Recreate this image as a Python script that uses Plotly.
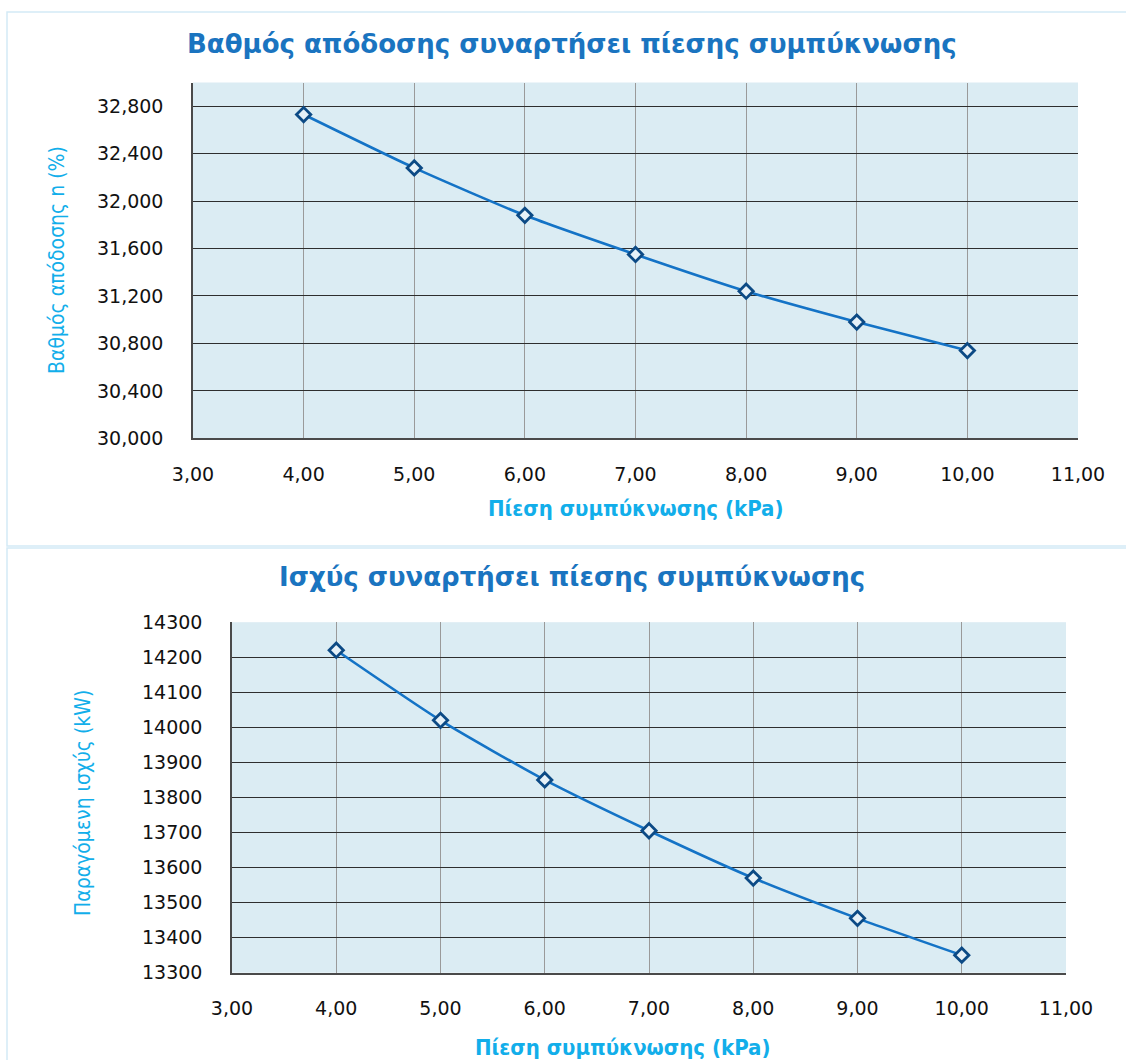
import plotly.graph_objects as go

# Condensing pressure (kPa)
pressure_kpa = [4.0, 5.0, 6.0, 7.0, 8.0, 9.0, 10.0]
# Thermal efficiency (%)
efficiency_pct = [32.73, 32.28, 31.88, 31.55, 31.24, 30.98, 30.74]
# Generated power (kW)
power_kw = [14220, 14020, 13850, 13705, 13570, 13455, 13350]

title_top = "Βαθμός απόδοσης συναρτήσει πίεσης συμπύκνωσης"
title_bottom = "Ισχύς συναρτήσει πίεσης συμπύκνωσης"
x_title = "Πίεση συμπύκνωσης (kPa)"
y_title_top = "Βαθμός απόδοσης n (%)"
y_title_bottom = "Παραγόμενη ισχύς (kW)"

W, H = 1126, 1060


def px_x(v):
    return v / W


def px_y(v):
    return 1 - v / H


LINE_COLOR = "#1473c6"
MARKER_FILL = "#e6f1f8"
MARKER_EDGE = "#0c4a85"
PLOT_BG = "#dbecf3"
TITLE_COLOR = "#1a74c0"
AXIS_TITLE_COLOR = "#12aeea"
TICK_FONT = dict(family="DejaVu Sans", size=19, color="#111111")

fig = go.Figure()

for xa, ya, yvals in (("x", "y", efficiency_pct), ("x2", "y2", power_kw)):
    fig.add_trace(go.Scatter(
        x=pressure_kpa, y=yvals, xaxis=xa, yaxis=ya,
        mode="lines+markers",
        line=dict(color=LINE_COLOR, width=2.6, shape="spline", smoothing=0.6),
        marker=dict(symbol="diamond", size=11, color=MARKER_FILL,
                    line=dict(color=MARKER_EDGE, width=2.8)),
        showlegend=False, hoverinfo="x+y",
    ))

x_common = dict(
    range=[3, 11], tick0=3, dtick=1, tickformat=".2f",
    showgrid=True, gridcolor="#9a9a9a", gridwidth=1,
    showline=True, linecolor="#4a4a4a", linewidth=1.5,
    ticks="", ticklabelstandoff=18, tickfont=TICK_FONT,
    zeroline=False, fixedrange=True, automargin=False,
)
y_common = dict(
    showgrid=True, gridcolor="#2e2e2e", gridwidth=1,
    showline=True, linecolor="#4a4a4a", linewidth=1.5,
    ticks="", ticklabelstandoff=24, tickfont=TICK_FONT,
    zeroline=False, fixedrange=True, automargin=False,
)

fig.update_layout(
    width=W, height=H,
    margin=dict(l=0, r=0, t=0, b=0, pad=0),
    paper_bgcolor="white",
    plot_bgcolor=PLOT_BG,
    separators=",.",
    xaxis=dict(domain=[px_x(193), px_x(1078)], anchor="y", **x_common),
    yaxis=dict(domain=[px_y(438.3), px_y(82.5)], anchor="x",
               range=[30, 33], tick0=30, dtick=0.4, tickformat=".3f",
               **y_common),
    xaxis2=dict(domain=[px_x(232), px_x(1066)], anchor="y2", **x_common),
    yaxis2=dict(domain=[px_y(972.7), px_y(622.2)], anchor="x2",
                range=[13300, 14300], tick0=13300, dtick=100, tickformat="d",
                **y_common),
)

# Card frames around each chart
card_line = dict(color="#d4eaf6", width=1.5)
fig.add_shape(type="rect", xref="paper", yref="paper",
              x0=px_x(7), x1=px_x(1160), y0=px_y(546), y1=px_y(12),
              line=card_line, fillcolor="rgba(0,0,0,0)", layer="below")
fig.add_shape(type="rect", xref="paper", yref="paper",
              x0=px_x(7), x1=px_x(1160), y0=px_y(1100), y1=px_y(548),
              line=card_line, fillcolor="rgba(0,0,0,0)", layer="below")

title_font = dict(family="DejaVu Sans", size=26, color=TITLE_COLOR)
xt_font = dict(family="DejaVu Sans Condensed", size=22, color=AXIS_TITLE_COLOR)
yt_font = dict(family="DejaVu Sans Condensed", size=21, color=AXIS_TITLE_COLOR)

annotations = [
    dict(text=f"<b>{title_top}</b>", x=px_x(572), y=px_y(44), font=title_font),
    dict(text=f"<b>{title_bottom}</b>", x=px_x(572), y=px_y(577), font=title_font),
    dict(text=f"<b>{x_title}</b>", x=px_x(635), y=px_y(508), font=xt_font),
    dict(text=f"<b>{x_title}</b>", x=px_x(622), y=px_y(1047), font=xt_font),
    dict(text=y_title_top, x=px_x(57), y=px_y(260), font=yt_font, textangle=-90),
    dict(text=y_title_bottom, x=px_x(83), y=px_y(803), font=yt_font, textangle=-90),
]
for a in annotations:
    fig.add_annotation(xref="paper", yref="paper", showarrow=False,
                       xanchor="center", yanchor="middle", **a)

fig.write_html("out.html")
